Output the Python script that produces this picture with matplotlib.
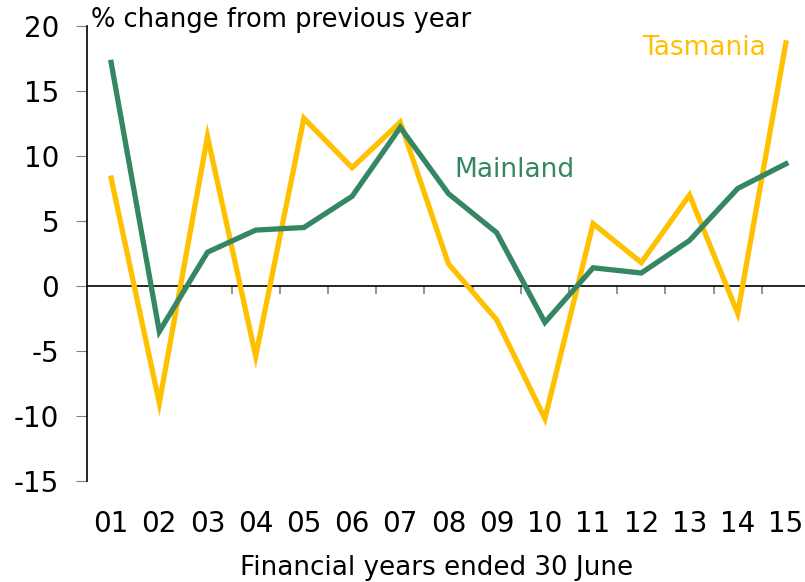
import matplotlib
matplotlib.use("Agg")
import matplotlib.pyplot as plt
import numpy as np

# Financial years ended 30 June
years = ["01", "02", "03", "04", "05", "06", "07", "08", "09", "10", "11", "12", "13", "14", "15"]

# % change from previous year
mainland = [17.2, -3.5, 2.6, 4.3, 4.5, 6.9, 12.2, 7.1, 4.1, -2.8, 1.4, 1.0, 3.5, 7.5, 9.4]
tasmania = [8.3, -9.0, 11.5, -5.4, 12.9, 9.1, 12.6, 1.7, -2.6, -10.2, 4.8, 1.8, 7.0, -2.1, 18.7]

yellow = "#FFC000"
green = "#358663"
plt.rcParams["font.family"] = ["DejaVu Sans"]
plt.rcParams["axes.unicode_minus"] = False

fig = plt.figure(figsize=(8.05, 5.82), dpi=100)
ax = fig.add_axes([87 / 805, 101 / 582, 723 / 805, 455 / 582])

x = np.arange(len(years))
ax.plot(x, tasmania, color=yellow, lw=3.8, solid_joinstyle="miter", zorder=3)
ax.plot(x, mainland, color=green, lw=3.8, solid_joinstyle="miter", zorder=4)

ax.set_xlim(-0.5, len(years) - 0.5)
ax.set_ylim(-15, 20)
ax.set_yticks(range(-15, 21, 5))
ax.tick_params(axis="y", direction="out", length=8, color="#808080", labelsize=20, pad=12)

# category labels below the chart, no marks at the bottom
ax.set_xticks(x)
ax.set_xticklabels(years)
ax.tick_params(axis="x", length=0, labelsize=20, pad=21)

for s in ["top", "right", "bottom"]:
    ax.spines[s].set_visible(False)
ax.spines["left"].set_color("black")
ax.spines["left"].set_linewidth(1.2)

# zero line with category boundary ticks hanging from it
ax.axhline(0, color="black", lw=1.2, zorder=2)
bounds = np.arange(len(years)) + 0.5
ax.vlines(bounds, -0.6, 0, color="#808080", lw=1.2, zorder=1)

ax.set_xlabel("Financial years ended 30 June", fontsize=18.8, labelpad=12)
ax.xaxis.label.set_x(0.484)

fig.text(91 / 805, 1 - 20 / 582, "% change from previous year", fontsize=18.5, va="center", ha="left")
ax.text(7.13, 8.9, "Mainland", color=green, fontsize=19, ha="left", va="center")
ax.text(13.59, 18.3, "Tasmania", color=yellow, fontsize=19, ha="right", va="center")

fig.savefig("out.png", dpi=100)
